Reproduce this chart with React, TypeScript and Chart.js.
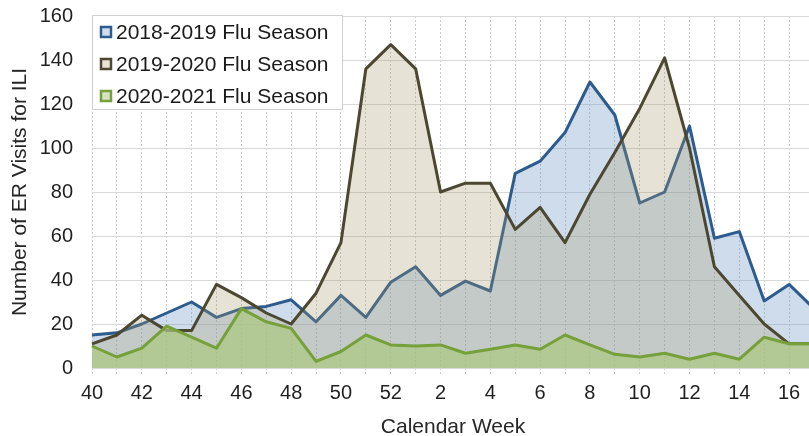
import React, { useEffect, useRef } from "react";
import { Chart, registerables } from "chart.js";

Chart.register(...registerables);

const weeks = [
  "40", "41", "42", "43", "44", "45", "46", "47", "48", "49", "50", "51", "52",
  "1", "2", "3", "4", "5", "6", "7", "8", "9", "10", "11", "12", "13", "14", "15", "16", "17",
];

const season1819 = [
  15, 16, 20, 25, 30, 23, 27, 28, 31, 21, 33, 23, 39,
  46, 33, 39.5, 35, 88.5, 94, 107, 130, 115, 75, 80, 110, 59, 62, 30.5, 38, 27,
];

const season1920 = [
  11, 15, 24, 17, 17, 38, 32, 25, 20, 34, 57, 136, 147,
  136, 80, 84, 84, 63, 73, 57, 79, 98, 118, 141, 100, 46, 33, 20, 11, 11,
];

const season2021 = [
  10, 5, 9, 19, 14, 9, 27, 21, 18, 3, 7.5, 15, 10.5,
  10, 10.5, 6.7, 8.5, 10.5, 8.5, 15, 10.5, 6.2, 5, 6.7, 4, 6.7, 4, 14, 11, 11,
];

const seriesLabels = ["2018-2019 Flu Season", "2019-2020 Flu Season", "2020-2021 Flu Season"];
const yTicks = [0, 20, 40, 60, 80, 100, 120, 140, 160];

const FONT = '"Liberation Sans", Arial, sans-serif';

const lineColors = ["#2c5b8e", "#4b4731", "#76a03a"];
const fillColors = ["rgba(118,155,201,0.35)", "rgba(166,155,109,0.28)", "rgba(170,198,129,0.72)"];
const markerFills = ["#cfdcec", "#e6e3d6", "#d6e4c3"];

const legendPlugin = {
  id: "boxLegend",
  afterDraw(chart: any) {
    const ctx = chart.ctx;
    const left = chart.chartArea.left;
    const top = chart.chartArea.top;
    ctx.save();
    ctx.fillStyle = "#ffffff";
    ctx.fillRect(left, top - 1, 251, 95);
    ctx.strokeStyle = "#d0d0d0";
    ctx.lineWidth = 1;
    ctx.strokeRect(left + 0.5, top - 0.5, 250, 94);
    ctx.font = `21px ${FONT}`;
    ctx.textBaseline = "middle";
    ctx.textAlign = "left";
    seriesLabels.forEach((label, i) => {
      const cy = top + 16 + i * 32;
      ctx.fillStyle = markerFills[i];
      ctx.fillRect(left + 9, cy - 5, 10, 10);
      ctx.strokeStyle = lineColors[i];
      ctx.lineWidth = 2.5;
      ctx.strokeRect(left + 9, cy - 5, 10, 10);
      ctx.fillStyle = "#1a1a1a";
      ctx.fillText(label, left + 24, cy + 1);
    });
    ctx.restore();
  },
};

export default function App() {
  const canvasRef = useRef<HTMLCanvasElement | null>(null);

  useEffect(() => {
    const canvas = canvasRef.current;
    if (!canvas) return;
    const data = [season1819, season1920, season2021];
    const chart = new Chart(canvas, {
      type: "line",
      data: {
        labels: weeks,
        datasets: data.map((values, i) => ({
          label: seriesLabels[i],
          data: values,
          borderColor: lineColors[i],
          backgroundColor: fillColors[i],
          borderWidth: 3,
          pointRadius: 0,
          tension: 0,
          fill: "origin",
          order: 2 - i,
          borderJoinStyle: "round" as const,
        })),
      },
      options: {
        animation: false,
        responsive: false,
        devicePixelRatio: 1,
        layout: { padding: { top: 16, right: 16, left: 0, bottom: 0 } },
        plugins: {
          legend: { display: false },
          tooltip: { enabled: false },
        },
        scales: {
          x: {
            type: "category",
            offset: false,
            border: { display: false, dash: [2, 2] },
            grid: {
              color: "#c8c8c8",
              lineWidth: 1,
              tickLength: 7,
              tickColor: "#c8c8c8",
              tickBorderDash: [2, 2],
            } as any,
            ticks: {
              autoSkip: false,
              maxRotation: 0,
              padding: 6,
              color: "#1f1f1f",
              font: { family: FONT, size: 20 },
              callback: (_v: any, index: number) =>
                Number(weeks[index]) % 2 === 0 ? weeks[index] : "",
            },
            title: {
              display: true,
              text: "Calendar Week",
              color: "#262626",
              font: { family: FONT, size: 21, lineHeight: 1 },
              padding: { top: 0, bottom: -2 },
            },
            afterFit: (scale: any) => {
              scale.height = 68;
            },
          },
          y: {
            min: 0,
            max: 160,
            border: { display: false },
            grid: { color: "#d9d9d9", lineWidth: 1, drawTicks: false },
            afterBuildTicks: (scale: any) => {
              scale.ticks = yTicks.map((v) => ({ value: v }));
            },
            ticks: {
              padding: 19,
              color: "#1f1f1f",
              font: { family: FONT, size: 20 },
            },
            title: {
              display: true,
              text: "Number of ER Visits for ILI",
              color: "#262626",
              font: { family: FONT, size: 21, lineHeight: 1 },
              padding: { top: 10, bottom: 0 },
            },
            afterFit: (scale: any) => {
              scale.width = 92;
              scale.paddingTop = 0;
              scale.paddingBottom = 0;
            },
          },
        },
      },
      plugins: [legendPlugin],
    });
    return () => chart.destroy();
  }, []);

  return (
    <div
      style={{
        position: "fixed",
        left: 0,
        top: 0,
        width: 809,
        height: 436,
        overflow: "hidden",
        background: "#ffffff",
      }}
    >
      <canvas ref={canvasRef} width={830} height={436} style={{ width: 830, height: 436, display: "block" }} />
    </div>
  );
}
